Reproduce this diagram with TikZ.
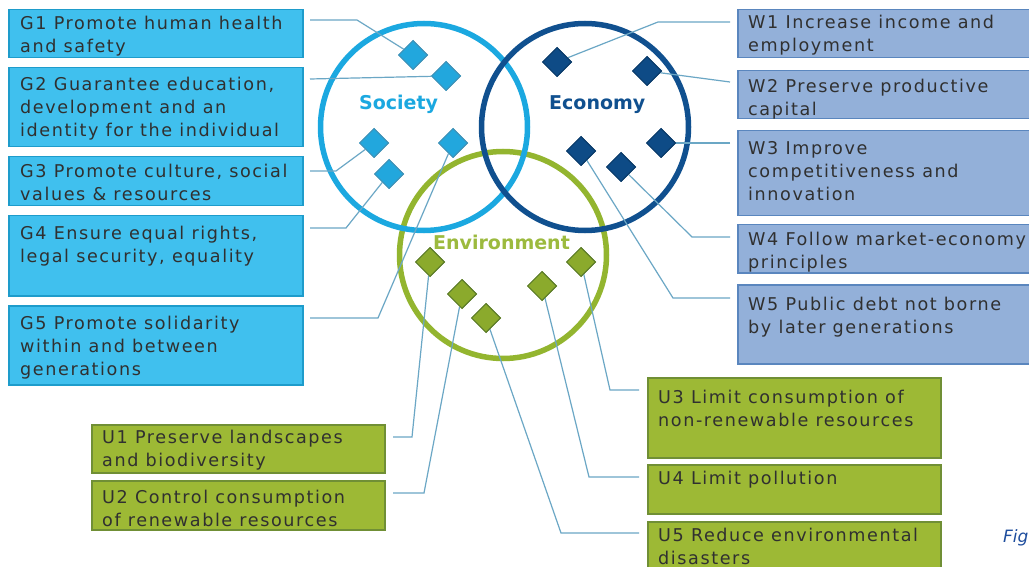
\documentclass[tikz,border=0pt]{standalone}
\usepackage{fontspec}
\setmainfont{DejaVu Sans}
\usetikzlibrary{shapes.geometric}
\definecolor{gfill}{HTML}{40C0EE}
\definecolor{gborder}{HTML}{1E9CCB}
\definecolor{wfill}{HTML}{93B0D9}
\definecolor{wborder}{HTML}{5A86BE}
\definecolor{ufill}{HTML}{9DB935}
\definecolor{uborder}{HTML}{708F35}
\definecolor{txtgray}{HTML}{303030}
\definecolor{socc}{HTML}{1BA8E0}
\definecolor{ecoc}{HTML}{10508F}
\definecolor{envc}{HTML}{93B52F}
\definecolor{socd}{HTML}{22A7DD}
\definecolor{socdb}{HTML}{3F93B8}
\definecolor{ecod}{HTML}{0E4B86}
\definecolor{envd}{HTML}{8BAA2C}
\definecolor{envdb}{HTML}{5E7E2A}
\definecolor{connc}{HTML}{6BA7C5}
\definecolor{envlab}{HTML}{9CBA3E}
\definecolor{figc}{HTML}{1F4E9E}
\newcommand\fstrut{\rule{0pt}{14pt}}
\begin{document}
\begin{tikzpicture}[x=1pt,y=-1pt,
  bx/.style={rectangle,anchor=north west,inner sep=0pt,line width=1.5pt},
  gbox/.style={bx,fill=gfill,draw=gborder,minimum width=294pt},
  wbox/.style={bx,fill=wfill,draw=wborder,minimum width=310pt},
  ubox/.style={bx,fill=ufill,draw=uborder,minimum width=293pt},
  txt/.style={anchor=north west,inner sep=0pt,align=left,text=txtgray,
    font={\fontsize{17.6pt}{23pt}\selectfont\addfontfeature{LetterSpace=9}}},
  ring/.style={circle,line width=5.5pt,minimum size=207pt,inner sep=0pt},
  dia/.style={diamond,aspect=1,minimum size=29pt,inner sep=0pt,line width=1pt},
  sd/.style={dia,fill=socd,draw=socdb},
  ed/.style={dia,fill=ecod,draw=ecod!80!black},
  vd/.style={dia,fill=envd,draw=envdb},
  conn/.style={draw=connc,line width=1.2pt},
  lab/.style={anchor=base west,inner sep=0pt,font={\fontsize{19pt}{23pt}\selectfont\bfseries}}
]
\useasboundingbox (0,0) rectangle (1029,567);
\clip (0,0) rectangle (1029,567);
\fill[white] (0,0) rectangle (1029,567);

% circles
\node[ring,draw=envc] (env) at (503,255) {};
\node[ring,draw=socc] (soc) at (424,127) {};
\node[ring,draw=ecoc] (eco) at (585,127) {};

% boxes
\node[gbox,minimum height=48pt] (G1) at (8,9) {};
\node[gbox,minimum height=79pt] (G2) at (8,67) {};
\node[gbox,minimum height=49pt] (G3) at (8,156) {};
\node[gbox,minimum height=80pt] (G4) at (8,215) {};
\node[gbox,minimum height=79pt] (G5) at (8,305) {};

\node[wbox,minimum height=48pt] (W1) at (737,9) {};
\node[wbox,minimum height=48pt] (W2) at (737,70) {};
\node[wbox,minimum height=85pt] (W3) at (737,130) {};
\node[wbox,minimum height=48pt] (W4) at (737,224) {};
\node[wbox,minimum height=79pt] (W5) at (737,284) {};

\node[ubox,minimum height=48pt] (U1) at (91,424) {};
\node[ubox,minimum height=49pt] (U2) at (91,480) {};
\node[ubox,minimum height=80pt] (U3) at (647,377) {};
\node[ubox,minimum height=49pt] (U4) at (647,464) {};
\node[ubox,minimum height=60pt] (U5) at (647,521) {};

% texts
\node[txt] (G1t) at (20,15) {\fstrut G1 Promote human health\\and safety};
\node[txt] (G2t) at (20,76) {\fstrut G2 Guarantee education,\\development and an\\identity for the individual};
\node[txt] (G3t) at (20,163) {\fstrut G3 Promote culture, social\\values \& resources};
\node[txt] (G4t) at (20,225) {\fstrut G4 Ensure equal rights,\\legal security, equality};
\node[txt] (G5t) at (20,315) {\fstrut G5 Promote solidarity\\within and between\\generations};

\node[txt] (W1t) at (748,14) {\fstrut W1 Increase income and\\employment};
\node[txt] (W2t) at (748,78) {\fstrut W2 Preserve productive\\capital};
\node[txt] (W3t) at (748,140) {\fstrut W3 Improve\\competitiveness and\\innovation};
\node[txt] (W4t) at (748,231) {\fstrut W4 Follow market-economy\\principles};
\node[txt] (W5t) at (748,296) {\fstrut W5 Public debt not borne\\by later generations};

\node[txt] (U1t) at (102,429) {\fstrut U1 Preserve landscapes\\and biodiversity};
\node[txt] (U2t) at (102,489) {\fstrut U2 Control consumption\\of renewable resources};
\node[txt] (U3t) at (658,389) {\fstrut U3 Limit consumption of\\non-renewable resources};
\node[txt] (U4t) at (658,470) {\fstrut U4 Limit pollution};
\node[txt] (U5t) at (658,527) {\fstrut U5 Reduce environmental\\disasters};

% diamond positions
\path (413,55) coordinate (s1p) (446,76) coordinate (s2p) (374,143) coordinate (s3p)
      (453,143) coordinate (s4p) (389,174) coordinate (s5p)
      (557,62) coordinate (e1p) (647,71) coordinate (e2p) (661,143) coordinate (e3p)
      (581,151) coordinate (e4p) (621,167) coordinate (e5p)
      (430,262) coordinate (v1p) (462,294) coordinate (v2p) (486,318) coordinate (v3p)
      (542,286) coordinate (v4p) (581,262) coordinate (v5p);
\node[sd] (s1) at (s1p) {};
\node[sd] (s2) at (s2p) {};
\node[sd] (s3) at (s3p) {};
\node[sd] (s4) at (s4p) {};
\node[sd] (s5) at (s5p) {};
\node[ed] (e1) at (e1p) {};
\node[ed] (e2) at (e2p) {};
\node[ed] (e3) at (e3p) {};
\node[ed] (e4) at (e4p) {};
\node[ed] (e5) at (e5p) {};
\node[vd] (v1) at (v1p) {};
\node[vd] (v2) at (v2p) {};
\node[vd] (v3) at (v3p) {};
\node[vd] (v4) at (v4p) {};
\node[vd] (v5) at (v5p) {};

% connector end points and bends
\coordinate (g1a) at (310,20);  \coordinate (g1b) at (357,20);
\coordinate (g2a) at (310,79);
\coordinate (g3a) at (310,171); \coordinate (g3b) at (336,171);
\coordinate (g4a) at (310,228); \coordinate (g4b) at (346,228);
\coordinate (g5a) at (310,318); \coordinate (g5b) at (378,318);
\coordinate (w1a) at (730,22);  \coordinate (w1b) at (658,22);
\coordinate (w2a) at (730,82);
\coordinate (w3a) at (730,143);
\coordinate (w4a) at (730,237); \coordinate (w4b) at (692,237);
\coordinate (w5a) at (730,298); \coordinate (w5b) at (673,298);
\coordinate (u1a) at (393,437); \coordinate (u1b) at (412,437);
\coordinate (u2a) at (393,493); \coordinate (u2b) at (424,493);
\coordinate (u3a) at (639,390); \coordinate (u3b) at (610,390);
\coordinate (u4a) at (639,477); \coordinate (u4b) at (589,477);
\coordinate (u5a) at (639,533); \coordinate (u5b) at (561,533);

\draw[conn] (g1a) -- (g1b) -- (s1);
\draw[conn] (g2a) -- (s2);
\draw[conn] (g3a) -- (g3b) -- (s3);
\draw[conn] (g4a) -- (g4b) -- (s5);
\draw[conn] (g5a) -- (g5b) -- (s4);
\draw[conn] (w1a) -- (w1b) -- (e1);
\draw[conn] (w2a) -- (e2);
\draw[conn] (w3a) -- (e3);
\draw[conn] (w4a) -- (w4b) -- (e5);
\draw[conn] (w5a) -- (w5b) -- (e4);
\draw[conn] (u1a) -- (u1b) -- (v1);
\draw[conn] (u2a) -- (u2b) -- (v2);
\draw[conn] (u3a) -- (u3b) -- (v5);
\draw[conn] (u4a) -- (u4b) -- (v4);
\draw[conn] (u5a) -- (u5b) -- (v3);

% redraw diamonds on top of connectors
\node[sd] at (s1p) {};
\node[sd] at (s2p) {};
\node[sd] at (s3p) {};
\node[sd] at (s4p) {};
\node[sd] at (s5p) {};
\node[ed] at (e1p) {};
\node[ed] at (e2p) {};
\node[ed] at (e3p) {};
\node[ed] at (e4p) {};
\node[ed] at (e5p) {};
\node[vd] at (v1p) {};
\node[vd] at (v2p) {};
\node[vd] at (v3p) {};
\node[vd] at (v4p) {};
\node[vd] at (v5p) {};

% circle labels
\node[lab,text=socc] (socl) at (359,110) {Society};
\node[lab,text=ecoc] (ecol) at (549,110) {Economy};
\node[lab,text=envlab] (envl) at (433,250) {Environment};

\node[anchor=base west,inner sep=0pt,text=figc,font={\fontsize{17pt}{20pt}\selectfont\itshape}] (fig) at (1003,542) {Fig};
\end{tikzpicture}
\end{document}
